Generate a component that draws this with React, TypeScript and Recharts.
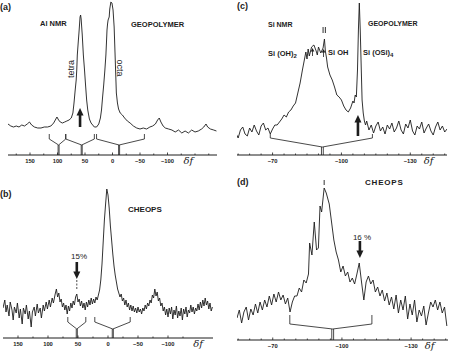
import React from "react";
import { LineChart, Line, XAxis, YAxis, ReferenceLine, ReferenceDot } from "recharts";

// (a) 27Al NMR, geopolymer: chemical shift (ppm) and intensity
const alShiftA = [
  190, 185, 180, 175, 170, 165, 160, 155, 151, 147,
  142, 136, 130, 124, 118, 112, 107, 104, 101, 98,
  95, 91, 87, 83, 79, 75, 72, 70, 68, 66,
  65, 64, 62, 61, 60, 59, 58, 57, 56, 55,
  53, 51, 49, 47, 45, 42, 39, 36, 33, 29,
  25, 22, 20, 18, 16, 14, 12, 11, 10, 9,
  8, 6, 5, 3, 1, -1, -3, -5, -7, -9,
  -11, -14, -18, -22, -27, -32, -38, -44, -50, -56,
  -62, -68, -73, -78, -82, -85, -88, -92, -96, -102,
  -108, -114, -120, -126, -132, -138, -144, -150, -156, -162,
  -166, -170, -173, -178, -184, -189,
];
const alGeo = [
  31, 29, 28, 29, 28, 30, 29, 31, 33, 30,
  28, 27, 27, 28, 28, 29, 32, 35, 38, 35,
  33, 32, 33, 34, 35, 37, 42, 52, 64, 75,
  85, 100, 115, 122, 130, 138, 140, 136, 128, 120,
  100, 86, 70, 55, 45, 36, 32, 30, 28, 28,
  31, 37, 45, 58, 70, 84, 100, 112, 125, 131,
  135, 138, 146, 153, 152, 145, 128, 95, 62, 52,
  46, 42, 40, 37, 34, 32, 29, 27, 26, 27,
  26, 28, 29, 31, 35, 37, 33, 29, 27, 26,
  25, 23, 25, 22, 24, 22, 25, 23, 24, 26,
  28, 31, 28, 26, 25, 24,
];

// (b) 27Al NMR, Cheops stone
const alShiftB = [
  175, 172, 170, 168, 165, 163, 160, 158, 156, 153,
  151, 148, 146, 143, 141, 138, 136, 133, 131, 128,
  126, 123, 121, 118, 116, 113, 111, 108, 106, 103,
  101, 98, 96, 93, 91, 88, 86, 84, 82, 80,
  78, 76, 74, 72, 70, 68, 66, 64, 62, 60,
  58, 56, 54, 52, 50, 48, 46, 44, 42, 40,
  38, 36, 34, 32, 30, 28, 26, 24, 22, 20,
  18, 16, 14, 12, 10, 8, 6, 4, 2, 0,
  -2, -4, -6, -8, -10, -12, -14, -16, -18, -20,
  -22, -24, -26, -28, -30, -32, -34, -36, -38, -40,
  -42, -44, -46, -48, -50, -52, -54, -56, -58, -60,
  -62, -64, -66, -68, -70, -72, -74, -76, -78, -80,
  -82, -84, -86, -88, -90, -92, -94, -96, -98, -100,
  -102, -104, -106, -108, -110, -112, -114, -116, -118, -120,
  -122, -124, -126, -128, -130, -132, -134, -136, -138, -140,
  -142, -144, -146, -148, -150, -152, -154, -156, -158, -160,
  -162, -164, -166, -168, -170, -172, -174,
];
const alCheops = [
  30, 38, 26, 33, 22, 36, 28, 18, 31, 25,
  35, 20, 29, 14, 30, 24, 33, 19, 27, 11,
  26, 31, 22, 34, 25, 30, 20, 33, 27, 36,
  29, 38, 31, 40, 35, 44, 49, 41, 45, 36,
  39, 31, 35, 28, 33, 24, 32, 27, 35, 30,
  37, 33, 41, 44, 36, 39, 32, 37, 30, 35,
  28, 36, 31, 38, 33, 40, 34, 39, 35, 41,
  38, 43, 48, 58, 74, 96, 118, 134, 149, 143,
  130, 112, 98, 84, 72, 63, 56, 49, 45, 41,
  44, 37, 40, 33, 38, 31, 35, 28, 33, 27,
  32, 26, 30, 25, 31, 26, 29, 24, 30, 27,
  33, 29, 35, 32, 38, 35, 43, 40, 49, 42,
  46, 37, 40, 32, 35, 27, 31, 23, 29, 21,
  30, 24, 31, 19, 28, 23, 32, 20, 27, 22,
  30, 18, 29, 24, 31, 21, 28, 25, 33, 26,
  31, 24, 30, 27, 34, 28, 36, 30, 38, 32,
  40, 33, 37, 29, 35, 27, 31,
];

// (c) 29Si NMR, geopolymer
const siShiftC = [
  -54, -55, -56, -57, -58, -59, -60, -61, -62, -63,
  -64, -65, -66, -67, -68, -69, -70, -71, -72, -73,
  -74, -75, -76, -77, -78, -79, -80, -81, -82, -83,
  -84, -84.5, -85, -85.5, -86, -87, -88, -89, -89.5, -90,
  -91, -92, -92.6, -93, -93.5, -94, -95, -96, -97, -98,
  -99, -100, -101, -102, -103, -104, -105, -105.5, -106, -106.5,
  -107, -107.4, -107.8, -108.2, -108.6, -109, -109.5, -110, -110.5, -111,
  -112, -113, -114, -115, -116, -117, -118, -119, -120, -121,
  -122, -123, -124, -125, -126, -127, -128, -129, -130, -131,
  -132, -133, -134, -135, -136, -137, -138, -139, -140, -141,
  -142, -143, -144, -145, -146,
];
const siGeo = [
  22, 17, 25, 28, 21, 19, 27, 23, 30, 24,
  20, 29, 32, 25, 27, 21, 26, 30, 30, 33,
  36, 40, 38, 43, 45, 49, 52, 62, 72, 85,
  97, 103, 96, 106, 99, 108, 110, 104, 100, 108,
  102, 107, 116, 104, 97, 88, 80, 75, 68, 60,
  58, 55, 49, 45, 43, 47, 54, 52, 60, 58,
  85, 125, 152, 125, 90, 55, 42, 34, 30, 34,
  25, 30, 22, 29, 33, 24, 28, 21, 30, 26,
  32, 23, 27, 34, 25, 21, 31, 27, 35, 24,
  20, 29, 26, 33, 22, 27, 31, 24, 20, 28,
  33, 25, 29, 23, 26,
];

// (d) 29Si NMR, Cheops stone
const siShiftD = [
  -54.5, -55.5, -56.5, -57.5, -58.5, -59.5, -60.5, -61.5, -62.5, -63.5,
  -64.5, -65.5, -66.5, -67.5, -68.5, -69.5, -70.5, -71.5, -72.5, -73.5,
  -74.5, -75.5, -76.5, -77.5, -78.5, -79.5, -80.5, -81.5, -82.5, -83.5,
  -84.5, -85.5, -86, -87, -88, -89, -89.8, -90.5, -91.2, -92.3,
  -93.2, -94.5, -95.5, -96.5, -97.5, -98.5, -99.5, -100.5, -101.5, -102.5,
  -103.5, -104.5, -105.5, -106.5, -107.5, -108.5, -109.5, -110.5, -111.5, -112.5,
  -113.5, -114.5, -115.5, -116.5, -117.5, -118.5, -119.5, -120.5, -121.5, -122.5,
  -123.5, -124.5, -125.5, -126.5, -127.5, -128.5, -129.5, -130.5, -131.5, -132.5,
  -133.5, -134.5, -135.5, -136.5, -137.5, -138.5, -139.5, -140.5, -141.5, -142.5,
  -143.5, -144.5, -145.5,
];
const siCheops = [
  22, 30, 17, 28, 33, 20, 31, 25, 36, 27,
  38, 30, 40, 33, 44, 35, 46, 38, 48, 40,
  45, 36, 42, 28, 38, 44, 44, 52, 48, 60,
  57, 66, 97, 85, 118, 90, 92, 134, 128, 152,
  147, 136, 118, 100, 88, 80, 68, 74, 64, 68,
  58, 62, 56, 66, 77, 58, 40, 58, 64, 56,
  60, 48, 53, 44, 50, 39, 47, 35, 43, 31,
  45, 27, 40, 30, 44, 21, 36, 25, 40, 18,
  30, 24, 34, 15, 27, 38, 33, 40, 30, 38,
  27, 33, 14,
];

// spinning side-band brackets: [left, centre, right] shift
const alBracketsA = [[115, 98, 85], [85, 56, 33], [29, -12, -58]];
const alBracketsB = [[67, 52, 37], [22, -8, -37]];
const siBracketsC = [[-69, -91.7, -113.5]];
const siBracketsD = [[-77.4, -96, -113]];

// axis ticks and labels
const alTicks = [175, 150, 125, 100, 75, 50, 25, 0, -25, -50, -75, -100, -125, -138, -150, -175];
const alTicksB = [150, 125, 100, 75, 50, 25, 0, -25, -50, -75, -100, -125, -150];
const alLabels = [150, 100, 50, 0, -50, -100];
const siTicks = [
  -55, -60, -65, -70, -75, -80, -85, -90, -95, -100,
  -105, -110, -115, -120, -125, -130, -135, -138, -140, -145,
];
const siLabels = [-70, -100, -130];

const FONT = "'Liberation Sans', Arial, sans-serif";
const INK = "#1c1c1c";

function AxisTick(props: any) {
  const { x, y, payload, labels, df } = props;
  const v = payload.value;
  if (v === df) {
    return (
      <text x={x} y={y + 8.5} textAnchor="middle" fontFamily="'DejaVu Serif', serif" fontStyle="italic" fontSize={10} fill={INK}>
        δf
      </text>
    );
  }
  const major = labels.includes(v);
  return (
    <g>
      <line x1={x} x2={x} y1={y - (major ? 2.5 : 1.5)} y2={y} stroke={INK} strokeWidth={0.8} />
      {major && (
        <text x={x} y={y + 8} textAnchor="middle" fontFamily={FONT} fontWeight="bold" fontSize={5.8} fill={INK}>
          {v < 0 ? "\u2212" + -v : v}
        </text>
      )}
    </g>
  );
}

const upHead = (p: any) => <path d={`M${p.cx},${p.cy} l-3.5,7.5 h7 z`} fill={INK} />;
const downHead = (p: any) => <path d={`M${p.cx},${p.cy} l-3.5,-7.5 h7 z`} fill={INK} />;
const tinyUp = (p: any) => (
  <g>
    <path d={`M${p.cx},${p.cy} l-1.8,3.5 h3.6 z`} fill={INK} />
    <line x1={p.cx} x2={p.cx} y1={p.cy + 3} y2={p.cy + 8} stroke={INK} strokeWidth={0.8} />
  </g>
);

function arrow(key: string, [v, base, tip]: number[]) {
  const up = tip > base;
  return [
    <ReferenceLine key={key + "s"} segment={[{ x: v, y: base }, { x: v, y: up ? tip - 5 : tip + 5 }]} stroke={INK} strokeWidth={2.6} ifOverflow="visible" />,
    <ReferenceDot key={key + "h"} x={v} y={tip} r={0} shape={up ? upHead : downHead} ifOverflow="visible" />,
  ];
}

// short vertical peak markers
function marker(key: string, v: number, from: number, to: number) {
  return <ReferenceLine key={key} segment={[{ x: v, y: from }, { x: v, y: to }]} stroke={INK} strokeWidth={0.9} ifOverflow="visible" />;
}

function Panel(p: any) {
  const data = p.shift.map((v: number, k: number) => ({ v, i: p.inten[k] }));
  const [top, mid, low] = p.levels;
  const lineProps = { dataKey: "i", stroke: INK, strokeWidth: 0.8, dot: false, isAnimationActive: false, type: "linear" as const };
  const brackets = p.brackets.flatMap(([l, c, r]: number[], k: number) => [
    <Line key={`b${k}`} {...lineProps} data={[{ v: l, i: top }, { v: l, i: mid }, { v: c, i: low }, { v: r, i: mid }, { v: r, i: top }]} />,
    <Line key={`c${k}a`} {...lineProps} data={[{ v: c - p.gap, i: low }, { v: c - p.gap, i: 0 }]} />,
    <Line key={`c${k}b`} {...lineProps} data={[{ v: c + p.gap, i: low }, { v: c + p.gap, i: 0 }]} />,
  ]);
  return (
    <div style={{ position: "absolute", left: p.left, top: p.top }}>
      <LineChart width={225} height={176} margin={p.margin}>
        <XAxis
          type="number"
          dataKey="v"
          domain={p.domain}
          reversed
          allowDataOverflow
          ticks={p.ticks}
          interval={0}
          tickSize={0}
          tickMargin={0}
          tickLine={false}
          axisLine={{ stroke: INK, strokeWidth: 1 }}
          height={p.xh}
          tick={(t: any) => <AxisTick {...t} labels={p.labels} df={p.df} />}
        />
        <YAxis type="number" hide domain={[0, p.yMax]} allowDataOverflow />
        {brackets}
        <Line data={data} dataKey="i" type="linear" stroke={INK} strokeWidth={0.9} dot={false} isAnimationActive={false} />
        {p.extra}
      </LineChart>
    </div>
  );
}

export default function App() {
  return (
    <div style={{ position: "absolute", left: 0, top: 0, width: 450, height: 352, background: "#fff" }}>
      <Panel
        left={0} top={0} margin={{ top: 0, right: 8, bottom: 6, left: 8 }} xh={15}
        domain={[-190, 190]} yMax={155} ticks={alTicks} labels={alLabels} df={-138}
        shift={alShiftA} inten={alGeo} brackets={alBracketsA} levels={[21, 16, 10]} gap={0.9}
        extra={arrow("a", [59, 28, 47])}
      />
      <Panel
        left={0} top={176} margin={{ top: 0, right: 12, bottom: 0, left: 3 }} xh={14}
        domain={[-175, 175]} yMax={162} ticks={alTicksB} labels={alLabels} df={-150}
        shift={alShiftB} inten={alCheops} brackets={alBracketsB} levels={[21, 16, 9]} gap={0.9}
        extra={[
          ...arrow("b", [52, 76, 59]),
          <ReferenceLine key="bd" segment={[{ x: 52, y: 49 }, { x: 52, y: 58 }]} stroke={INK} strokeWidth={0.8} strokeDasharray="2 1.5" ifOverflow="visible" />,
        ]}
      />
      <Panel
        left={225} top={0} margin={{ top: 0, right: 3, bottom: 6, left: 12 }} xh={15}
        domain={[-146, -54.5]} yMax={155} ticks={siTicks} labels={siLabels} df={-138}
        shift={siShiftC} inten={siGeo} brackets={siBracketsC} levels={[21, 17, 8]} gap={0.4}
        extra={[
          ...arrow("c", [-107.2, 19, 40]),
          <ReferenceDot key="t1" x={-87.4} y={107} r={0} shape={tinyUp} ifOverflow="visible" />,
          <ReferenceDot key="t2" x={-92.2} y={106} r={0} shape={tinyUp} ifOverflow="visible" />,
          marker("m1", -92.0, 122, 128),
          marker("m2", -93.0, 122, 128),
        ]}
      />
      <Panel
        left={225} top={176} margin={{ top: 0, right: 2, bottom: 0, left: 12 }} xh={12}
        domain={[-146, -54.5]} yMax={164} ticks={siTicks} labels={siLabels} df={-138}
        shift={siShiftD} inten={siCheops} brackets={siBracketsD} levels={[25, 16, 11]} gap={0.4}
        extra={[
          ...arrow("d", [-107.8, 99, 82]),
          marker("m3", -92.3, 155, 160),
        ]}
      />
      <svg width={450} height={352} style={{ position: "absolute", left: 0, top: 0, pointerEvents: "none" }}>
        <g fontFamily={FONT} fill={INK}>
          <text x={0} y={10} fontSize={9} fontWeight="bold">(a)</text>
          <text x={40} y={26} fontSize={7.5} fontWeight="bold">Al  NMR</text>
          <text x={131} y={27} fontSize={7.5} fontWeight="bold">GEOPOLYMER</text>
          <text transform="translate(74,69) rotate(-90)" textAnchor="middle" fontSize={9}>tetra</text>
          <text transform="translate(117,68) rotate(90)" textAnchor="middle" fontSize={9}>octa</text>

          <text x={0} y={197} fontSize={9} fontWeight="bold">(b)</text>
          <text x={128} y={212} fontSize={8} fontWeight="bold">CHEOPS</text>
          <text x={79} y={259} textAnchor="middle" fontSize={8}>15%</text>

          <text x={237} y={9} fontSize={9} fontWeight="bold">(c)</text>
          <text x={268} y={27} fontSize={7} fontWeight="bold">Si  NMR</text>
          <text x={368} y={26} fontSize={7} fontWeight="bold">GEOPOLYMER</text>
          <text x={268} y={56} fontSize={7.5} fontWeight="bold">
            Si (OH)<tspan dy={2} fontSize={6}>2</tspan>
          </text>
          <text x={328} y={55} fontSize={7.5} fontWeight="bold">Si OH</text>
          <text x={363} y={55} fontSize={7.5} fontWeight="bold">
            Si (OSi)<tspan dy={2} fontSize={6}>4</tspan>
          </text>

          <text x={237} y={185} fontSize={9} fontWeight="bold">(d)</text>
          <text x={365} y={185} fontSize={8} fontWeight="bold" letterSpacing={0.8}>CHEOPS</text>
          <text x={362} y={240} textAnchor="middle" fontSize={8}>16 %</text>
        </g>
      </svg>
    </div>
  );
}
